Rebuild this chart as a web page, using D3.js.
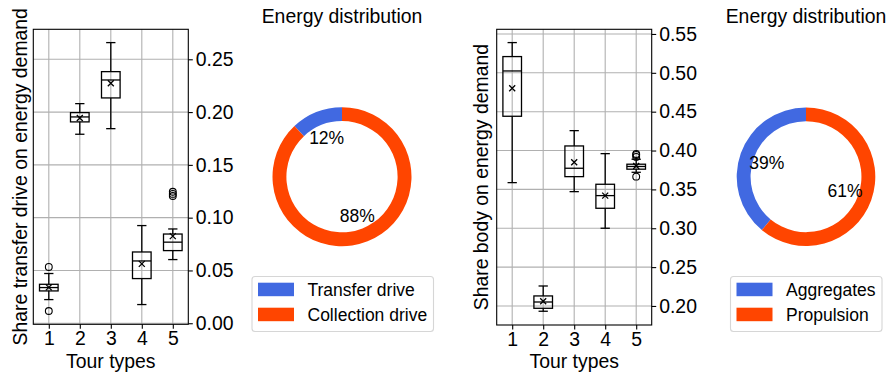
<!DOCTYPE html>
<html>
<head>
<meta charset="utf-8">
<script src="https://cdn.jsdelivr.net/npm/d3@7"></script>
<style>
  body { margin: 0; background: #fff; }
  svg { display: block; font-family: "Liberation Sans", Arial, sans-serif; }
</style>
</head>
<body>
<div id="chart"></div>
<script>
// tour types on the x axis
const tourTypes = [1, 2, 3, 4, 5];

// share transfer drive on energy demand (box stats per tour type)
const transferWhiskLo = [0.0224, 0.179, 0.1843, 0.0177, 0.0603];
const transferQ1 = [0.0306, 0.1907, 0.2134, 0.0423, 0.0688];
const transferMedian = [0.0338, 0.1954, 0.2304, 0.059, 0.0768];
const transferQ3 = [0.0369, 0.1995, 0.2383, 0.0675, 0.0845];
const transferWhiskHi = [0.0471, 0.208, 0.2658, 0.0925, 0.0893];
const transferMean = [0.034, 0.1944, 0.2273, 0.0562, 0.0825];
const transferOutliers = [[0.0533, 0.0116], [], [], [], [0.1245, 0.1225, 0.1205]];
const transferTicks = [0, 0.05, 0.1, 0.15, 0.2, 0.25];

// share body on energy demand
const bodyWhiskLo = [0.3587, 0.1932, 0.3471, 0.3, 0.372];
const bodyQ1 = [0.4441, 0.197, 0.3664, 0.3257, 0.376];
const bodyMedian = [0.5024, 0.2051, 0.3772, 0.342, 0.3795];
const bodyQ3 = [0.5209, 0.2129, 0.4059, 0.3566, 0.3824];
const bodyWhiskHi = [0.5389, 0.2257, 0.4256, 0.396, 0.3888];
const bodyMean = [0.4801, 0.206, 0.385, 0.342, 0.38];
const bodyOutliers = [[], [], [], [], [0.3956, 0.3943, 0.3918, 0.3664]];
const bodyTicks = [0.2, 0.25, 0.3, 0.35, 0.4, 0.45, 0.5, 0.55];

// energy distribution donuts
const driveLabels = ['Transfer drive', 'Collection drive'];
const driveShares = [12, 88];
const partLabels = ['Aggregates', 'Propulsion'];
const partShares = [39, 61];
const pieColors = ['#4169e1', '#ff4500'];

const W = 887, H = 376;
const svg = d3.select('#chart').append('svg').attr('width', W).attr('height', H);

const stats = (lo, q1, med, q3, hi, mean, out) =>
  tourTypes.map((t, i) => ({ t, lo: lo[i], q1: q1[i], med: med[i], q3: q3[i], hi: hi[i], mean: mean[i], out: out[i] }));

function boxPanel(o) {
  const x = d3.scaleLinear().domain([0.5, 5.5]).range([o.left, o.right]);
  const y = d3.scaleLinear().domain(o.domain).range([o.bottom, o.top]);
  const g = svg.append('g');

  // grid
  g.selectAll('.gx').data(tourTypes).join('line')
    .attr('x1', d => x(d)).attr('x2', d => x(d))
    .attr('y1', o.top).attr('y2', o.bottom)
    .attr('stroke', '#b0b0b0').attr('stroke-width', 1.1);
  g.selectAll('.gy').data(o.ticks).join('line')
    .attr('x1', o.left).attr('x2', o.right)
    .attr('y1', d => y(d)).attr('y2', d => y(d))
    .attr('stroke', '#b0b0b0').attr('stroke-width', 1.1);

  const bw = 0.6;
  const boxes = g.selectAll('.box').data(o.data).join('g');
  boxes.append('line')
    .attr('x1', d => x(d.t)).attr('x2', d => x(d.t))
    .attr('y1', d => y(d.hi)).attr('y2', d => y(d.q3))
    .attr('stroke', '#000').attr('stroke-width', 1.3);
  boxes.append('line')
    .attr('x1', d => x(d.t)).attr('x2', d => x(d.t))
    .attr('y1', d => y(d.q1)).attr('y2', d => y(d.lo))
    .attr('stroke', '#000').attr('stroke-width', 1.3);
  ['hi', 'lo'].forEach(k => boxes.append('line')
    .attr('x1', d => x(d.t - bw / 4)).attr('x2', d => x(d.t + bw / 4))
    .attr('y1', d => y(d[k])).attr('y2', d => y(d[k]))
    .attr('stroke', '#000').attr('stroke-width', 1.3));
  boxes.append('rect')
    .attr('x', d => x(d.t - bw / 2)).attr('width', x(bw) - x(0))
    .attr('y', d => y(d.q3)).attr('height', d => y(d.q1) - y(d.q3))
    .attr('fill', 'none').attr('stroke', '#000').attr('stroke-width', 1.3);
  boxes.append('line')
    .attr('x1', d => x(d.t - bw / 2)).attr('x2', d => x(d.t + bw / 2))
    .attr('y1', d => y(d.med)).attr('y2', d => y(d.med))
    .attr('stroke', '#000').attr('stroke-width', 1.3);
  boxes.append('path')
    .attr('d', d => {
      const cx = x(d.t), cy = y(d.mean), s = 3;
      return `M${cx - s},${cy - s}L${cx + s},${cy + s}M${cx - s},${cy + s}L${cx + s},${cy - s}`;
    })
    .attr('stroke', '#000').attr('stroke-width', 1.3);
  boxes.selectAll('circle').data(d => d.out.map(v => ({ t: d.t, v }))).join('circle')
    .attr('cx', d => x(d.t)).attr('cy', d => y(d.v)).attr('r', 3.4)
    .attr('fill', 'none').attr('stroke', '#000').attr('stroke-width', 1.1);

  // frame
  g.append('rect')
    .attr('x', o.left).attr('y', o.top)
    .attr('width', o.right - o.left).attr('height', o.bottom - o.top)
    .attr('fill', 'none').attr('stroke', '#000').attr('stroke-width', 1.1);

  const yAxis = g.append('g')
    .attr('transform', `translate(${o.right},0)`)
    .call(d3.axisRight(y).tickValues(o.ticks).tickFormat(d3.format('.2f')).tickSize(4.5).tickPadding(3));
  const xAxis = g.append('g')
    .attr('transform', `translate(0,${o.bottom})`)
    .call(d3.axisBottom(x).tickValues(tourTypes).tickFormat(d3.format('d')).tickSize(4.5).tickPadding(2.5));
  [xAxis, yAxis].forEach(a => {
    a.select('.domain').remove();
    a.selectAll('line').attr('stroke', '#000').attr('stroke-width', 1.1);
    a.selectAll('text').attr('fill', '#000').style('font-size', '19.4px')
      .style('font-family', '"Liberation Sans", Arial, sans-serif');
  });

  g.append('text')
    .attr('x', (o.left + o.right) / 2).attr('y', 367.5)
    .attr('text-anchor', 'middle').style('font-size', '19.4px')
    .text('Tour types');
  g.append('text')
    .attr('transform', `translate(${o.labelX},${(o.top + o.bottom) / 2}) rotate(-90)`)
    .attr('text-anchor', 'middle').style('font-size', '19.4px')
    .text(o.label);
}

function donut(o) {
  const g = svg.append('g').attr('transform', `translate(${o.cx},${o.cy})`);
  const pie = d3.pie().sort(null).startAngle(0).endAngle(-2 * Math.PI);
  const arcs = pie(o.values);
  const arc = d3.arc().innerRadius(o.r * 0.8).outerRadius(o.r);
  const labelArc = d3.arc().innerRadius(o.r * 0.6).outerRadius(o.r * 0.6);
  g.selectAll('path').data(arcs).join('path')
    .attr('d', arc).attr('fill', (d, i) => pieColors[i]);
  g.selectAll('text.pct').data(arcs).join('text')
    .attr('class', 'pct')
    .attr('transform', d => `translate(${labelArc.centroid(d)})`)
    .attr('text-anchor', 'middle').attr('dy', '0.35em')
    .style('font-size', '17.5px')
    .text(d => `${d.data}%`);

  svg.append('text')
    .attr('x', o.cx).attr('y', 23)
    .attr('text-anchor', 'middle').style('font-size', '19.4px')
    .text('Energy distribution');

  const lg = svg.append('g').attr('transform', `translate(${o.legX},276)`);
  lg.append('rect')
    .attr('x', 0.5).attr('y', 0.5).attr('width', o.legW).attr('height', 55)
    .attr('rx', 3).attr('fill', '#fff').attr('stroke', '#d6d6d6').attr('stroke-width', 1.1);
  const rows = lg.selectAll('.row').data(o.labels).join('g')
    .attr('transform', (d, i) => `translate(0,${13.5 + i * 25})`);
  rows.append('rect')
    .attr('x', 6.5).attr('y', -6.8).attr('width', 36).attr('height', 13.5)
    .attr('fill', (d, i) => pieColors[i]);
  rows.append('text')
    .attr('x', 56).attr('dy', '0.35em').style('font-size', '17.5px')
    .text(d => d);
}

boxPanel({
  left: 33.3, right: 188.3, top: 29.3, bottom: 324.3,
  domain: [-0.001, 0.2784], ticks: transferTicks, labelX: 27,
  label: 'Share transfer drive on energy demand',
  data: stats(transferWhiskLo, transferQ1, transferMedian, transferQ3, transferWhiskHi, transferMean, transferOutliers)
});
boxPanel({
  left: 496.7, right: 651.7, top: 29.3, bottom: 325,
  domain: [0.1755, 0.556], ticks: bodyTicks, labelX: 488,
  label: 'Share body on energy demand',
  data: stats(bodyWhiskLo, bodyQ1, bodyMedian, bodyQ3, bodyWhiskHi, bodyMean, bodyOutliers)
});

donut({ cx: 342, cy: 176.7, r: 69.5, values: driveShares, labels: driveLabels, legX: 251.5, legW: 181.5 });
donut({ cx: 806, cy: 176.7, r: 69.3, values: partShares, labels: partLabels, legX: 730, legW: 151.5 });
</script>
</body>
</html>
